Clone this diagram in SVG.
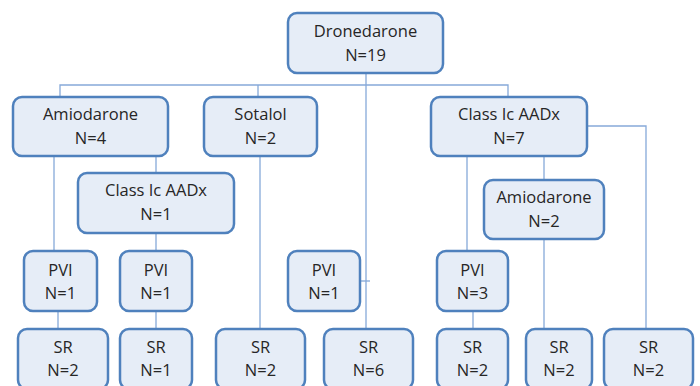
<svg xmlns="http://www.w3.org/2000/svg" width="700" height="386" viewBox="0 0 700 386">
<style>
.box{fill:#E6EDF7;stroke:#4F81BD;stroke-width:2.5}
.t{font-family:"Open Sans","Liberation Sans",sans-serif;font-size:16.5px;fill:#262626;text-anchor:middle}
.c{fill:none;stroke:#86A9D9;stroke-width:1.3}
</style>
<rect width="700" height="386" fill="#FFFFFF"/>
<g id="connectors">
<path class="c" d="M366,73V329"/>
<path class="c" d="M60,97V85H508V97"/>
<path class="c" d="M258,85V97"/>
<path class="c" d="M54,156V251"/>
<path class="c" d="M156,156V173"/>
<path class="c" d="M156,233V251"/>
<path class="c" d="M58,311V329"/>
<path class="c" d="M156,311V329"/>
<path class="c" d="M260,156V329"/>
<path class="c" d="M360,281H370"/>
<path class="c" d="M467,156V251"/>
<path class="c" d="M544,156V180"/>
<path class="c" d="M587,126H646V329"/>
<path class="c" d="M473,311V329"/>
<path class="c" d="M544,239V329"/>
</g>
<g id="dronedarone"><rect class="box" x="288" y="13" width="155" height="60" rx="9"/><text class="t" x="365.5" y="37">Dronedarone</text><text class="t" x="365.5" y="61">N=19</text></g>
<g id="amiodarone4"><rect class="box" x="13" y="97" width="155" height="59" rx="9"/><text class="t" x="90.5" y="120">Amiodarone</text><text class="t" x="90.5" y="144">N=4</text></g>
<g id="sotalol"><rect class="box" x="204" y="97" width="113" height="59" rx="9"/><text class="t" x="260.5" y="120">Sotalol</text><text class="t" x="260.5" y="144">N=2</text></g>
<g id="classic7"><rect class="box" x="431" y="97" width="156" height="59" rx="9"/><text class="t" x="509" y="120">Class Ic AADx</text><text class="t" x="509" y="144">N=7</text></g>
<g id="classic1"><rect class="box" x="78" y="173" width="156" height="60" rx="9"/><text class="t" x="156" y="196">Class Ic AADx</text><text class="t" x="156" y="220">N=1</text></g>
<g id="amiodarone2"><rect class="box" x="484" y="180" width="120" height="59" rx="9"/><text class="t" x="544" y="203">Amiodarone</text><text class="t" x="544" y="227">N=2</text></g>
<g id="pvi1"><rect class="box" x="24" y="251" width="73" height="60" rx="9"/><text class="t" x="60.5" y="276">PVI</text><text class="t" x="60.5" y="299">N=1</text></g>
<g id="pvi2"><rect class="box" x="120" y="251" width="72" height="60" rx="9"/><text class="t" x="156" y="276">PVI</text><text class="t" x="156" y="299">N=1</text></g>
<g id="pvi3"><rect class="box" x="288" y="251" width="72" height="60" rx="9"/><text class="t" x="324" y="276">PVI</text><text class="t" x="324" y="299">N=1</text></g>
<g id="pvi4"><rect class="box" x="437" y="251" width="71" height="60" rx="9"/><text class="t" x="472.5" y="276">PVI</text><text class="t" x="472.5" y="299">N=3</text></g>
<g id="sr1"><rect class="box" x="18" y="329" width="90" height="60" rx="9"/><text class="t" x="63" y="353">SR</text><text class="t" x="63" y="376">N=2</text></g>
<g id="sr2"><rect class="box" x="120" y="329" width="72" height="60" rx="9"/><text class="t" x="156" y="353">SR</text><text class="t" x="156" y="376">N=1</text></g>
<g id="sr3"><rect class="box" x="216" y="329" width="89" height="60" rx="9"/><text class="t" x="260.5" y="353">SR</text><text class="t" x="260.5" y="376">N=2</text></g>
<g id="sr4"><rect class="box" x="324" y="329" width="89" height="60" rx="9"/><text class="t" x="368.5" y="353">SR</text><text class="t" x="368.5" y="376">N=6</text></g>
<g id="sr5"><rect class="box" x="437" y="329" width="71" height="60" rx="9"/><text class="t" x="472.5" y="353">SR</text><text class="t" x="472.5" y="376">N=2</text></g>
<g id="sr6"><rect class="box" x="526" y="329" width="66" height="60" rx="9"/><text class="t" x="559" y="353">SR</text><text class="t" x="559" y="376">N=2</text></g>
<g id="sr7"><rect class="box" x="604" y="329" width="89" height="60" rx="9"/><text class="t" x="648.5" y="353">SR</text><text class="t" x="648.5" y="376">N=2</text></g>
</svg>
